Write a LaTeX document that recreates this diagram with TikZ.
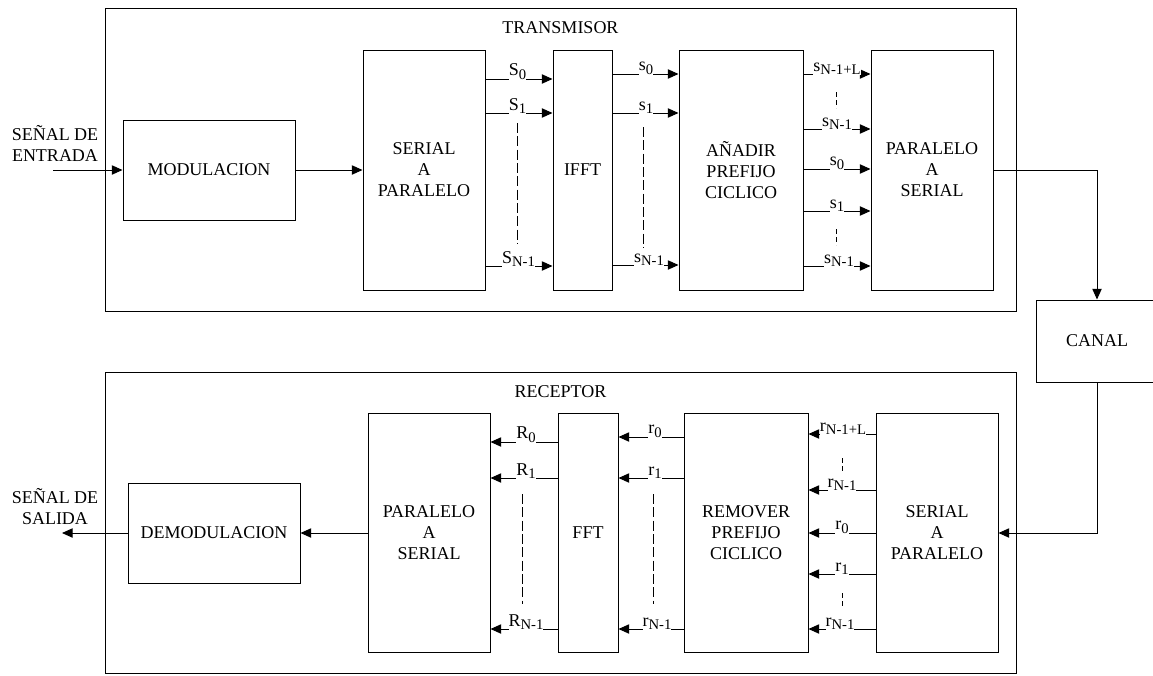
\documentclass[tikz,border=0pt]{standalone}
\usepackage{fontspec}
\setmainfont{Liberation Serif}
\usetikzlibrary{arrows.meta,fit}
\newcommand\subx[1]{\raisebox{-2.6pt}{\fontsize{11}{11}\selectfont #1}}
\begin{document}
\begin{tikzpicture}[x=0.75pt,y=-0.75pt,
  font=\fontsize{13.5}{15.75}\selectfont,
  line width=0.75pt,
  blk/.style={draw, inner sep=0pt},
  txt/.style={align=center, inner sep=0pt},
  arr/.style={-{Triangle[length=8pt,width=7pt]}},
  lbl/.style={fill=white, inner sep=0pt, anchor=south},
  dsh/.style={dash pattern=on 7.5pt off 2.5pt},
  sdsh/.style={dash pattern=on 4pt off 2pt}]
\useasboundingbox (0,0) rectangle (1153,675);

% ---------- TRANSMISOR ----------
\node[blk, fit={(105,8)(1016,311)}] (tx) {};
\node[anchor=base] (txl) at (560.5,33) {TRANSMISOR};
\node[blk, fit={(123,120)(295,220)}] (mod) {};
\node[txt] (modt) at (mod.center) {MODULACION};
\node[blk, fit={(363,50)(485,290)}] (stx) {};
\node[txt] (stxt) at (stx.center) {SERIAL\\A\\PARALELO};
\node[blk, fit={(553,50)(612,290)}] (ifft) {};
\node[txt] (ifftt) at (ifft.center) {IFFT};
\node[blk, fit={(679,50)(803,290)}] (cp) {};
\node[txt] (cpt) at (cp.center) {AÑADIR\\PREFIJO\\CICLICO};
\node[blk, fit={(871,50)(993,290)}] (ptx) {};
\node[txt] (ptxt) at (ptx.center) {PARALELO\\A\\SERIAL};

\coordinate (in) at (53,170);
\node[align=center, anchor=base] (inl) at (55,161) {SEÑAL DE\\ENTRADA};
\draw[arr] (in) -- (mod.west |- 0,170);
\draw[arr] (mod.east |- 0,170) -- (stx.west |- 0,170);

% serial -> IFFT
\draw[arr] (stx.east |- 0,79) -- (ifft.west |- 0,79);
\draw[arr] (stx.east |- 0,113) -- (ifft.west |- 0,113);
\draw[arr] (stx.east |- 0,266) -- (ifft.west |- 0,266);
\node[lbl] (a0) at (517.5,80) {S\subx{0}};
\node[lbl] (a1) at (517.5,114) {S\subx{1}};
\node[lbl] (a2) at (518.5,267) {S\subx{N-1}};
\draw[dsh] (517,123) -- (517,244);

% IFFT -> CP
\draw[arr] (ifft.east |- 0,74) -- (cp.west |- 0,74);
\draw[arr] (ifft.east |- 0,113) -- (cp.west |- 0,113);
\draw[arr] (ifft.east |- 0,265) -- (cp.west |- 0,265);
\node[lbl] (b0) at (646,75) {s\subx{0}};
\node[lbl] (b1) at (646,114) {s\subx{1}};
\node[lbl] (b2) at (649,266) {s\subx{N-1}};
\draw[dsh] (643,127) -- (643,248);

% CP -> P/S
\draw[arr] (cp.east |- 0,74) -- (ptx.west |- 0,74);
\draw[arr] (cp.east |- 0,129) -- (ptx.west |- 0,129);
\draw[arr] (cp.east |- 0,169) -- (ptx.west |- 0,169);
\draw[arr] (cp.east |- 0,211) -- (ptx.west |- 0,211);
\draw[arr] (cp.east |- 0,266) -- (ptx.west |- 0,266);
\node[lbl] (c0) at (837,75) {s\subx{N-1+L}};
\node[lbl] (c1) at (837,130) {s\subx{N-1}};
\node[lbl] (c2) at (837,170) {s\subx{0}};
\node[lbl] (c3) at (837,212) {s\subx{1}};
\node[lbl] (c4) at (839,267) {s\subx{N-1}};
\draw[sdsh] (836,92) -- (836,108);
\draw[sdsh] (836,229) -- (836,245);

% ---------- CANAL ----------
\node[blk, fit={(1036,300)(1158,382)}] (canal) {};
\node[txt] (canalt) at (1097,341) {CANAL};
\draw[arr] (ptx.east |- 0,170) -| (canal.north);

% ---------- RECEPTOR ----------
\node[blk, fit={(105,372)(1016,673)}] (rx) {};
\node[anchor=base] (rxl) at (560.5,397) {RECEPTOR};
\node[blk, fit={(128,483)(300,583)}] (demod) {};
\node[txt] (demodt) at (demod.center) {DEMODULACION};
\node[blk, fit={(368,413)(490,652)}] (prx) {};
\node[txt] (prxt) at (429,533) {PARALELO\\A\\SERIAL};
\node[blk, fit={(558,413)(618,652)}] (fft) {};
\node[txt] (fftt) at (588,533) {FFT};
\node[blk, fit={(684,413)(808,652)}] (rcp) {};
\node[txt] (rcpt) at (746,533) {REMOVER\\PREFIJO\\CICLICO};
\node[blk, fit={(876,413)(998,652)}] (srx) {};
\node[txt] (srxt) at (937,533) {SERIAL\\A\\PARALELO};

\draw[arr] (canal.south) |- (srx.east |- 0,533);

% S/P -> remover
\draw[arr] (srx.west |- 0,434) -- (rcp.east |- 0,434);
\draw[arr] (srx.west |- 0,490) -- (rcp.east |- 0,490);
\draw[arr] (srx.west |- 0,533) -- (rcp.east |- 0,533);
\draw[arr] (srx.west |- 0,574) -- (rcp.east |- 0,574);
\draw[arr] (srx.west |- 0,629) -- (rcp.east |- 0,629);
\node[lbl] (d0) at (843,435) {r\subx{N-1+L}};
\node[lbl] (d1) at (842,491) {r\subx{N-1}};
\node[lbl] (d2) at (842,534) {r\subx{0}};
\node[lbl] (d3) at (842,575) {r\subx{1}};
\node[lbl] (d4) at (840,630) {r\subx{N-1}};
\draw[sdsh] (842,458) -- (842,473);
\draw[sdsh] (842,593) -- (842,608);

% remover -> FFT
\draw[arr] (rcp.west |- 0,437) -- (fft.east |- 0,437);
\draw[arr] (rcp.west |- 0,478) -- (fft.east |- 0,478);
\draw[arr] (rcp.west |- 0,629) -- (fft.east |- 0,629);
\node[lbl] (e0) at (655,438) {r\subx{0}};
\node[lbl] (e1) at (655,479) {r\subx{1}};
\node[lbl] (e2) at (657,630) {r\subx{N-1}};
\draw[dsh] (653,494) -- (653,604);

% FFT -> P/S
\draw[arr] (fft.west |- 0,442) -- (prx.east |- 0,442);
\draw[arr] (fft.west |- 0,478) -- (prx.east |- 0,478);
\draw[arr] (fft.west |- 0,629) -- (prx.east |- 0,629);
\node[lbl] (f0) at (526,443) {R\subx{0}};
\node[lbl] (f1) at (526,479) {R\subx{1}};
\node[lbl] (f2) at (526,630) {R\subx{N-1}};
\draw[dsh] (522,494) -- (522,604);

% output
\draw[arr] (prx.west |- 0,533) -- (demod.east);
\coordinate (out) at (62,533);
\draw[arr] (demod.west) -- (out);
\node[align=center, anchor=base] (outl) at (55,524.5) {SEÑAL DE\\SALIDA};
\end{tikzpicture}
\end{document}
